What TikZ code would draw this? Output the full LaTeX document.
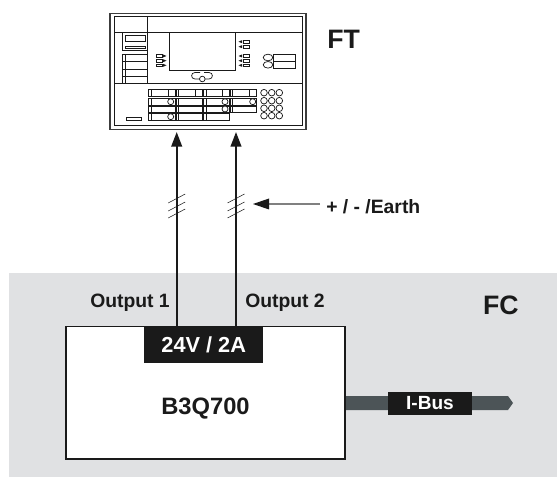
\documentclass[tikz,border=0pt]{standalone}
\usepackage{fontspec}
\setmainfont{Liberation Sans}
\usetikzlibrary{arrows.meta}
\definecolor{band}{HTML}{E0E1E3}
\definecolor{ink}{HTML}{1A1A1A}
\definecolor{bus}{HTML}{4C5457}
\tikzset{
  x=0.75pt,y=-0.75pt,
  lbl/.style={font=\bfseries\fontsize{14.5}{16}\selectfont,text=ink,inner sep=0pt},
  big/.style={font=\bfseries\fontsize{20}{22}\selectfont,text=ink,inner sep=0pt},
  flow/.style={draw=ink,line width=1.5pt,-{Triangle[length=11pt,width=8pt]},shorten >=0pt},
  tick/.style={draw=ink,line width=0.4pt},
  thin/.style={draw=ink,line width=0.55pt},
  slim/.style={draw=ink,line width=0.4pt},
}
\newcommand{\kbox}[4]{\draw[thin] (#1,#2) rectangle (#3,#4); \draw[slim] (#1+2.5,#2) -- (#1+2.5,#4);}
\begin{document}
\begin{tikzpicture}
\useasboundingbox (0,0) rectangle (557,477);
\fill[band] (9,273) rectangle (557,476.5);
% panel
\node[draw=ink!85,line width=0.8pt,minimum width=196*0.75pt,minimum height=116.5*0.75pt,inner sep=0pt] (panel) at (208,71.5) {};
\draw[thin] (114,16) rectangle (302,125);
\draw[thin] (114,32) -- (302,32);
\draw[thin] (147,16) -- (147,83);
\draw[thin] (114,83) -- (302,83);
\draw[thin] (169.3,32.5) rectangle (235,70);
% left stack
\draw[thin] (122.7,32.3) rectangle (147,50.7);
\draw[thin] (125,35) rectangle (145.7,41.7);
\draw[thin] (125,46) rectangle (145.7,48.5);
\foreach \y/\z in {54.3/61.7,61.7/69,69/76.7,76.7/83}{\kbox{122.7}{\y}{147}{\z}}
% small indicators left
\foreach \y in {56,60.7,65.3}{\draw[slim] (156,\y-1.3) rectangle (162,\y+1.3); \fill[ink] (163,\y-1.5) -- (166.5,\y) -- (163,\y+1.5) -- cycle;}
% small indicators right
\foreach \y in {41.7,46.7,56,60.7,65.3}{\draw[slim] (243,\y-1.3) rectangle (249,\y+1.3); \fill[ink] (242,\y-1.5) -- (238.5,\y) -- (242,\y+1.5) -- cycle;}
% nav
\draw[thin] (200,72.5) -- (195,72.5) .. controls (190.5,72.5) and (190.5,79) .. (195,79) -- (199.5,79);
\draw[thin] (204,72.5) -- (209,72.5) .. controls (213.5,72.5) and (213.5,79) .. (209,79) -- (205,79);
\draw[thin] (202.3,79) circle (2.8);
% right side
\draw[thin] (273.3,54.3) rectangle (295,61);
\draw[thin] (273.3,61) rectangle (295,68.3);
\draw[thin] (268,57.5) ellipse (4.8 and 3.3);
\draw[thin] (268,64.8) ellipse (4.8 and 3.3);
% keys
\foreach \a/\b in {148.3/175,176/202.3,203.3/229,230/256.7}{
  \kbox{\a}{89.5}{\b}{96}
  \draw[slim] (\b-7,89.5) -- (\b-7,96);
  \kbox{\a}{98.3}{\b}{105}
  \kbox{\a}{106}{\b}{112.7}}
\foreach \a/\b in {148.3/175,176/202.3,203.3/229}{\kbox{\a}{113.3}{\b}{120.7}}
\foreach \x/\y in {170.7/101.7,170.7/116.7,225/101.7,225/109,252.7/101.7}{\draw[thin,fill=white] (\x,\y) circle (3);}
\draw[thin] (126,117) rectangle (141,120);
% keypad
\foreach \y in {92.7,100.7,108.3,115.7}{\foreach \x in {264,271.7,279.3}{\draw[thin] (\x,\y) circle (3.3);}}
% power box
\node[draw=ink,line width=1.4pt,fill=white,minimum width=279.5*0.75pt,minimum height=132.5*0.75pt,inner sep=0pt] (box) at (205.5,392.75) {};
\node[lbl,font=\bfseries\fontsize{17.8}{19}\selectfont] (name) at (205.5,408.5) {B3Q700};
\node[fill=ink,text=white,font=\bfseries\fontsize{16.3}{18}\selectfont,minimum width=119*0.75pt,minimum height=36*0.75pt,inner sep=0pt] (volt) at (203.7,344.5) {24V / 2A};
% connectors
\coordinate (a1e) at (176.7,132); \coordinate (a2e) at (236,132);
\draw[flow] (box.north -| a1e) -- (a1e);
\draw[flow] (box.north -| a2e) -- (a2e);
\foreach \x in {176.7,236}{\foreach \d in {0,8,15}{\draw[tick] (\x-8.5,\d+203) -- (\x+8.5,\d+194);}}
% earth arrow
\node[lbl,anchor=west] (earth) at (326,207) {+ / - /Earth};
\coordinate (etip) at (253,204);
\coordinate (estart) at (320,204);
\draw[draw=gray,line width=0.9pt] (estart) -- (268,204);
\fill[ink] (etip) -- (269,198.5) -- (269,209.5) -- cycle;
% labels
\node[lbl,anchor=west] (o1) at (90,302.5) {Output 1};
\node[lbl,anchor=west] (o2) at (245,302.5) {Output 2};
\node[big,anchor=west] (ft) at (327,39) {FT};
\node[big,anchor=east] (fc) at (519,305) {FC};
% bus
\fill[bus] (box.east |- 0,396) -- (508,396) -- (513,403) -- (508,410) -- (box.east |- 0,410) -- cycle;
\node[fill=ink,text=white,font=\bfseries\fontsize{14.3}{16}\selectfont,minimum width=84*0.75pt,minimum height=23*0.75pt,inner sep=0pt] (ibus) at (430,403.5) {I-Bus};
\end{tikzpicture}
\end{document}
